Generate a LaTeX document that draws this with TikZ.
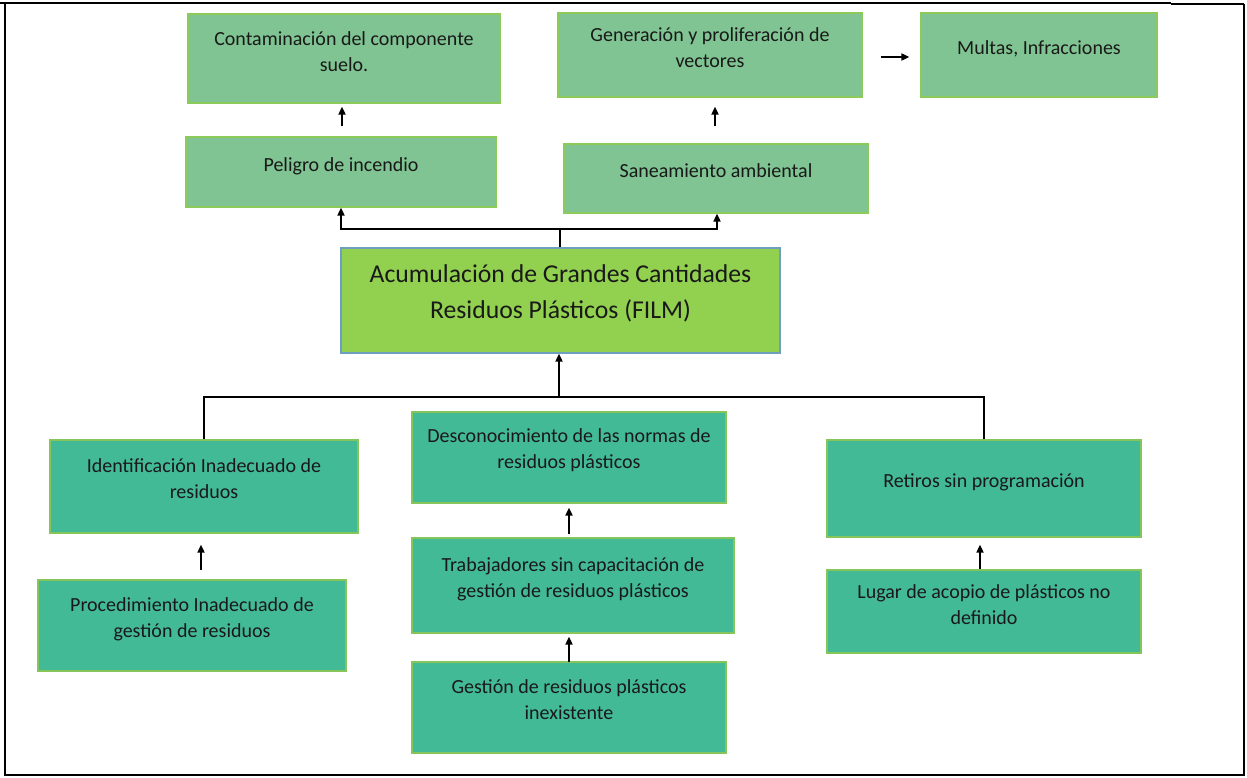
\documentclass[tikz,border=0pt]{standalone}
\usepackage{fontspec}
\setmainfont{Carlito}
\usetikzlibrary{calc,arrows.meta}
\definecolor{topfill}{HTML}{7FC492}
\definecolor{topdraw}{HTML}{8CCB5A}
\definecolor{botfill}{HTML}{43BA96}
\definecolor{botdraw}{HTML}{86C55A}
\definecolor{mainfill}{HTML}{92D050}
\definecolor{maindraw}{HTML}{6E9FBF}
\tikzset{
  topbox/.style={draw=topdraw, fill=topfill, line width=1.2pt, inner sep=0pt},
  botbox/.style={draw=botdraw, fill=botfill, line width=1.2pt, inner sep=0pt},
  mainbox/.style={draw=maindraw, fill=mainfill, line width=1.2pt, inner sep=0pt},
  txt/.style={align=center, inner sep=0pt, text=black!90, font=\fontsize{20}{26}\selectfont},
  bigtxt/.style={align=center, inner sep=0pt, text=black!90, font=\fontsize{25.7}{36}\selectfont},
  arr/.style={line width=1.7pt, -{Triangle[length=8pt,width=7pt]}},
  conn/.style={line width=1.7pt},
  frame/.style={line width=2pt}
}
\begin{document}
\begin{tikzpicture}[x=1pt,y=-1pt]
\useasboundingbox (0,0) rectangle (1247,777);
\fill[white] (0,0) rectangle (1247,777);
% frame
\draw[frame] (5,3) -- (1171,3);
\draw[frame] (1171,4) -- (1244,4);
\draw[frame] (5,3) -- (5,775) -- (1244,775) -- (1244,4);
\draw[line width=2pt] (0,3) -- (13,3);

% boxes
\node[topbox, minimum width=312, minimum height=89] (contam) at (344,58.5) {};
\node[txt] (tcontam) at (344,52) {Contaminación del componente\\suelo.};
\node[topbox, minimum width=310, minimum height=70] (peligro) at (341,172) {};
\node[txt] (tpeligro) at (341,166) {Peligro de incendio};
\node[topbox, minimum width=304, minimum height=84] (gener) at (710,55) {};
\node[txt] (tgener) at (710,48) {Generación y proliferación de\\vectores};
\node[topbox, minimum width=236, minimum height=84] (multas) at (1039,55) {};
\node[txt] (tmultas) at (1039,49) {Multas, Infracciones};
\node[topbox, minimum width=304, minimum height=69] (sanea) at (716,178.5) {};
\node[txt] (tsanea) at (716,171) {Saneamiento ambiental};

\node[mainbox, minimum width=439, minimum height=105] (main) at (560.5,300.5) {};
\node[bigtxt] (tmain) at (560.5,293) {Acumulación de Grandes Cantidades\\Residuos Plásticos (FILM)};

\node[botbox, minimum width=308, minimum height=93] (ident) at (204,486.5) {};
\node[txt] (tident) at (204,479) {Identificación Inadecuado de\\residuos};
\node[botbox, minimum width=308, minimum height=91] (proc) at (192,625.5) {};
\node[txt] (tproc) at (192,619) {Procedimiento Inadecuado de\\gestión de residuos};
\node[botbox, minimum width=314, minimum height=91] (desc) at (569,457.5) {};
\node[txt] (tdesc) at (569,450) {Desconocimiento de las normas de\\residuos plásticos};
\node[botbox, minimum width=322, minimum height=95] (trab) at (573,585.5) {};
\node[txt] (ttrab) at (573,579) {Trabajadores sin capacitación de\\gestión de residuos plásticos};
\node[botbox, minimum width=314, minimum height=91] (gest) at (569,707.5) {};
\node[txt] (tgest) at (569,700) {Gestión de residuos plásticos\\inexistente};
\node[botbox, minimum width=314, minimum height=97] (retir) at (984,488.5) {};
\node[txt] (tretir) at (984,482) {Retiros sin programación};
\node[botbox, minimum width=314, minimum height=83] (lugar) at (984,611.5) {};
\node[txt] (tlugar) at (984,604.5) {Lugar de acopio de plásticos no\\definido};

% upper connectors
\coordinate (jt) at (560,229);
\draw[conn] (main.north -| jt) -- (jt);
\draw[arr] (jt) -| ($(peligro.south)+(0,0)$);
\draw[arr] (jt) -| ($(sanea.south)+(1,0)$);
\draw[arr] ($(peligro.north)+(1,-10)$) -- ($(contam.south)+(-2,3)$);
\draw[arr] ($(sanea.north)+(-1,-17)$) -- ($(gener.south)+(5,9)$);
\draw[arr] ($(gener.east)+(18,2)$) -- ($(multas.west)+(-11,2)$);

% lower connectors
\coordinate (jb) at (559,397);
\draw[conn] (ident.north) |- (jb);
\draw[conn] (retir.north) |- (jb);
\draw[arr] (jb) -- (main.south -| jb);
\draw[arr] ($(proc.north)+(9,-9)$) -- ($(ident.south)+(-3,11)$);
\draw[arr] ($(trab.north)+(-4,-3)$) -- ($(desc.south)+(0,4)$);
\draw[arr] ($(gest.north)+(0,1)$) -- ($(trab.south)+(-4,3)$);
\draw[arr] ($(lugar.north)+(-4,0)$) -- ($(retir.south)+(-4,7)$);
\end{tikzpicture}
\end{document}
